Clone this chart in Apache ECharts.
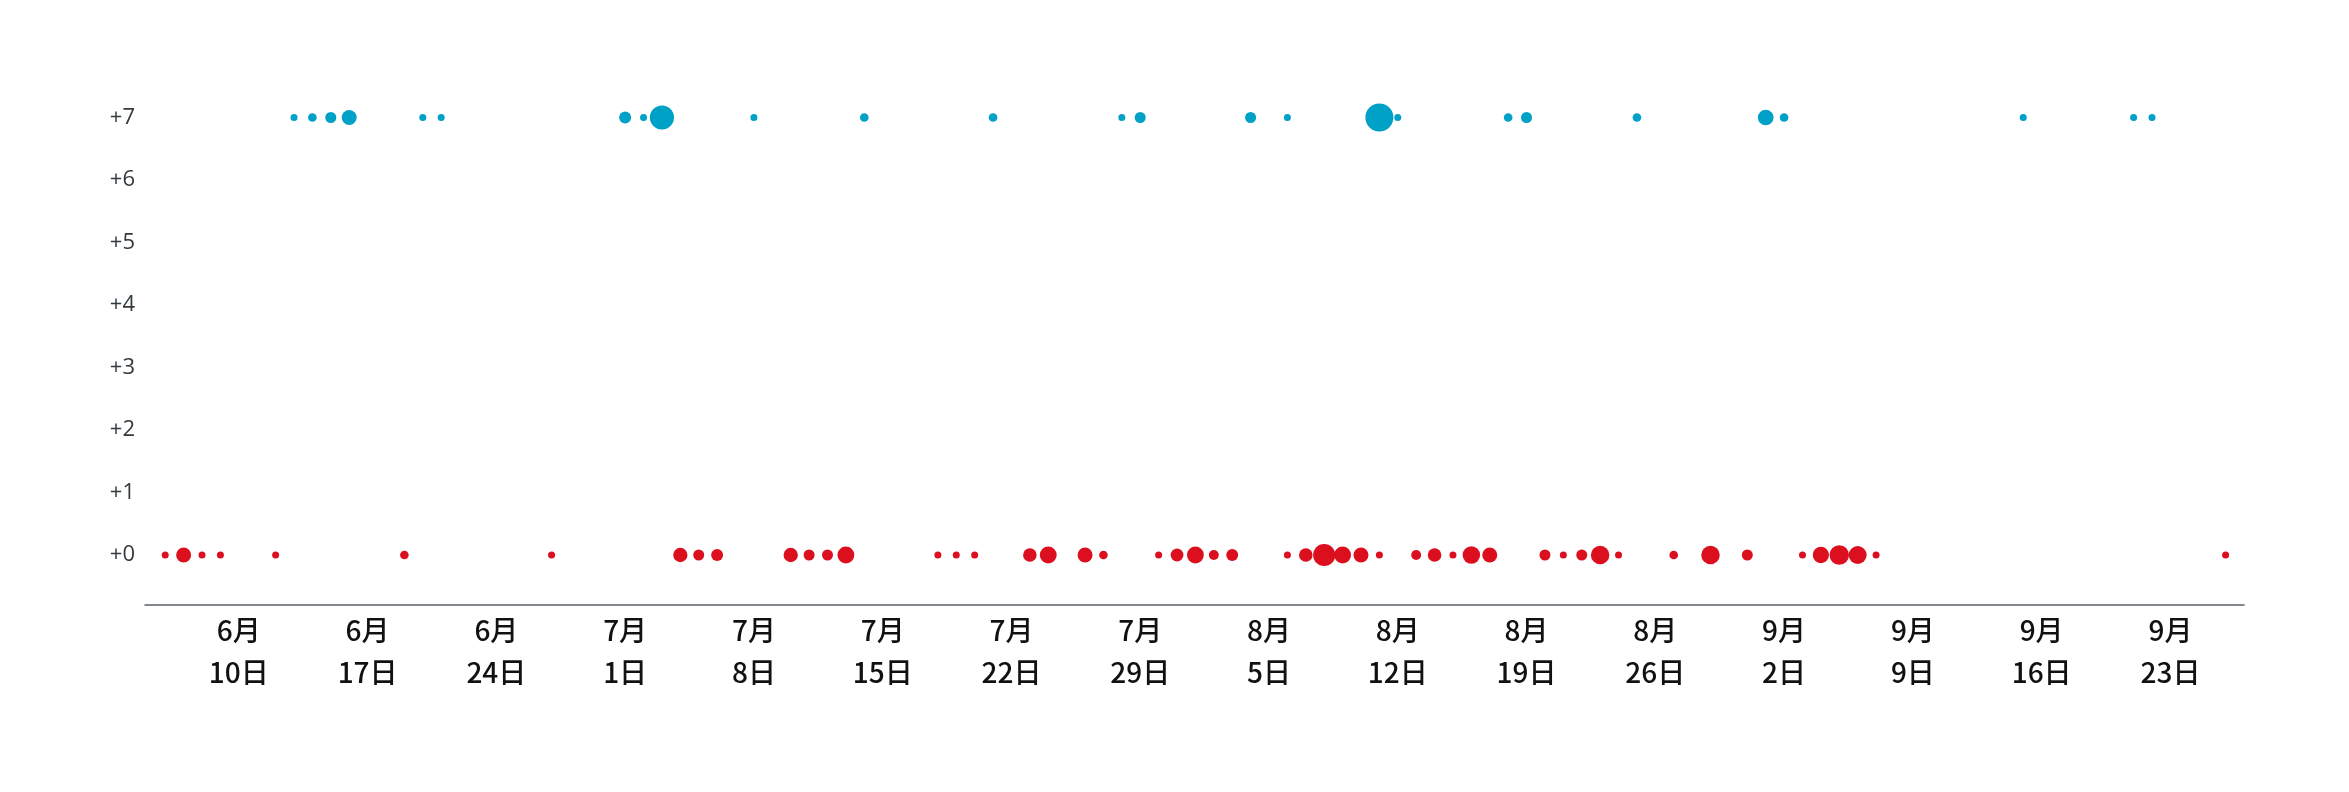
<!DOCTYPE html>
<html>
<head>
<meta charset="utf-8">
<script src="https://cdn.jsdelivr.net/npm/echarts@6/dist/echarts.min.js"></script>
<style>html,body{margin:0;padding:0;background:#fff;}#c{width:2349px;height:792px;}</style>
</head>
<body>
<div id="c"></div>
<script>
// ---- data ----
const startDate = "6-6";            // first day of the period (day 0)
const tickLabels = ["6-10","6-17","6-24","7-1","7-8","7-15","7-22","7-29","8-5","8-12","8-19","8-26","9-2","9-9","9-16","9-23"];
const yTicks = [0,1,2,3,4,5,6,7];

const redLevel = 0;
const redDates = ["6-6","6-7","6-8","6-9","6-12","6-19","6-27","7-4","7-5","7-6","7-10","7-11","7-12","7-13","7-18","7-19","7-20","7-23","7-24","7-26","7-27","7-30","7-31","8-1","8-2","8-3","8-6","8-7","8-8","8-9","8-10","8-11","8-13","8-14","8-15","8-16","8-17","8-20","8-21","8-22","8-23","8-24","8-27","8-29","8-31","9-3","9-4","9-5","9-6","9-7","9-26"];
const redCounts = [1,9,1,1,1,2,1,8,4,5,8,4,4,12,1,1,1,7,12,9,2,1,6,12,3,5,1,7,23,12,9,1,3,7,1,13,9,4,1,4,15,1,2,15,4,1,11,17,14,1,1];

const blueLevel = 7;
const blueDates = ["6-13","6-14","6-15","6-16","6-20","6-21","7-1","7-2","7-3","7-8","7-14","7-21","7-28","7-29","8-4","8-6","8-11","8-12","8-18","8-19","8-25","9-1","9-2","9-15","9-21","9-22"];
const blueCounts = [1,2,4,9,1,1,5,1,28,1,2,2,1,4,4,1,39,1,2,4,2,10,2,1,1,1];

// ---- helpers ----
function dayIndex(s){
  const [m,d] = s.split("-").map(Number);
  const [m0,d0] = startDate.split("-").map(Number);
  return Math.round((Date.UTC(2000,m-1,d) - Date.UTC(2000,m0-1,d0)) / 86400000);
}
function labelOf(idx){
  const [m0,d0] = startDate.split("-").map(Number);
  const t = new Date(Date.UTC(2000,m0-1,d0) + idx*86400000);
  return (t.getUTCMonth()+1) + "月\n" + t.getUTCDate() + "日";
}
const redData = redDates.map((d,i)=>[dayIndex(d), redLevel, redCounts[i]]);
const blueData = blueDates.map((d,i)=>[dayIndex(d), blueLevel, blueCounts[i]]);
const sizeFn = v => 3 + 4*Math.sqrt(v[2]);

const chart = echarts.init(document.getElementById('c'));
chart.setOption({
  animation:false,
  backgroundColor:'#ffffff',
  grid:{left:145, right:105, top:55, bottom:187},
  xAxis:{
    type:'value', min:-1.1, max:113,
    splitLine:{show:false},
    axisTick:{show:false},
    axisLine:{show:true, onZero:false, lineStyle:{color:'#5a6268', width:1.5}},
    axisLabel:{
      customValues: tickLabels.map(dayIndex),
      formatter: v => labelOf(v),
      color:'#111', fontSize:28, lineHeight:42, margin:4,
      fontFamily:'"Noto Sans CJK JP", sans-serif', fontWeight:500
    }
  },
  yAxis:{
    type:'value', min:-0.8, max:8,
    splitLine:{show:false},
    axisTick:{show:false},
    axisLine:{show:false},
    axisLabel:{
      customValues: yTicks,
      formatter: v => '+' + v,
      color:'#333a40', fontSize:22, margin:10,
      fontFamily:'"Open Sans", sans-serif'
    }
  },
  series:[
    {type:'scatter', data:blueData, symbol:'circle', symbolSize:sizeFn,
     itemStyle:{color:'#00a1c7', opacity:1}},
    {type:'scatter', data:redData, symbol:'circle', symbolSize:sizeFn,
     itemStyle:{color:'#dc0f1e', opacity:1}}
  ]
});
</script>
</body>
</html>
